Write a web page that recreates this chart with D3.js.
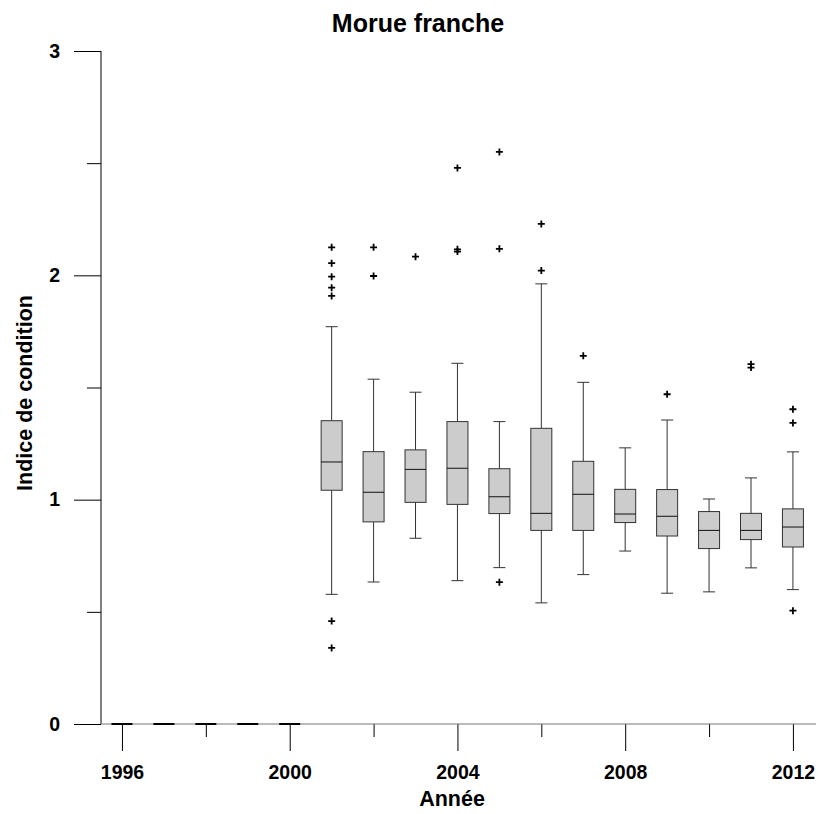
<!DOCTYPE html>
<html>
<head>
<meta charset="utf-8">
<script src="https://cdn.jsdelivr.net/npm/d3@7"></script>
<style>
  html, body { margin: 0; padding: 0; background: #fff; }
  svg { display: block; font-family: "Liberation Sans", Arial, sans-serif; }
</style>
</head>
<body>
<svg id="chart" width="820" height="814"></svg>
<script>
// Condition index of Atlantic cod by year (box-plot statistics)
const years       = [1996, 1997, 1998, 1999, 2000, 2001, 2002, 2003, 2004, 2005, 2006, 2007, 2008, 2009, 2010, 2011, 2012];
const whiskerLow  = [0, 0, 0, 0, 0, 0.578, 0.633, 0.828, 0.639, 0.697, 0.540, 0.666, 0.771, 0.583, 0.589, 0.696, 0.599];
const q1          = [0, 0, 0, 0, 0, 1.042, 0.901, 0.988, 0.979, 0.938, 0.863, 0.863, 0.898, 0.838, 0.782, 0.822, 0.789];
const medians     = [0, 0, 0, 0, 0, 1.168, 1.033, 1.135, 1.140, 1.013, 0.939, 1.024, 0.936, 0.926, 0.863, 0.863, 0.878];
const q3          = [0, 0, 0, 0, 0, 1.352, 1.214, 1.222, 1.348, 1.138, 1.318, 1.171, 1.046, 1.045, 0.947, 0.939, 0.959];
const whiskerHigh = [0, 0, 0, 0, 0, 1.771, 1.537, 1.479, 1.608, 1.348, 1.962, 1.523, 1.231, 1.355, 1.003, 1.097, 1.213];
const outliers    = [
  [], [], [], [], [],
  [2.125, 2.054, 1.994, 1.945, 1.908, 0.459, 0.339],
  [2.125, 1.997],
  [2.083],
  [2.479, 2.116, 2.106],
  [2.550, 2.118, 0.632],
  [2.229, 2.021],
  [1.641],
  [],
  [1.470],
  [],
  [1.604, 1.589],
  [1.403, 1.342, 0.505]
];
const yMajorTicks = [0, 1, 2, 3];
const yMinorTicks = [0.5, 1.5, 2.5];
const xMajorTicks = [1996, 2000, 2004, 2008, 2012];
const xMinorTicks = [1998, 2002, 2006, 2010];

const svg = d3.select("#chart");
const plotLeft = 101, plotRight = 816, plotTop = 51, plotBottom = 724;

const x = d3.scaleLinear().domain([1995.5, 2012.55]).range([plotLeft, plotRight]);
const y = d3.scaleLinear().domain([0, 3]).range([plotBottom, plotTop]);

const boxW = 21, capW = 12;

// Title
svg.append("text")
  .attr("x", 418).attr("y", 32)
  .attr("text-anchor", "middle")
  .attr("font-size", 25).attr("font-weight", "bold")
  .text("Morue franche");

function styleAxis(g) {
  g.select(".domain").remove();
  g.selectAll("text").attr("font-size", 19.5).attr("font-weight", "bold")
    .attr("font-family", "Liberation Sans, Arial, sans-serif").attr("fill", "#000");
  g.selectAll("line").attr("stroke", "#000");
}

// Y axis: long major ticks, shorter minor ticks
svg.append("g").attr("transform", `translate(${plotLeft},0)`)
  .call(d3.axisLeft(y).tickValues(yMajorTicks).tickSize(27).tickPadding(14).tickFormat(d3.format("d")))
  .call(styleAxis);
svg.append("g").attr("transform", `translate(${plotLeft},0)`)
  .call(d3.axisLeft(y).tickValues(yMinorTicks).tickSize(14).tickFormat(""))
  .call(styleAxis);

// X axis: long major ticks, shorter minor ticks
svg.append("g").attr("transform", `translate(0,${plotBottom})`)
  .call(d3.axisBottom(x).tickValues(xMajorTicks).tickSize(27).tickPadding(14).tickFormat(d3.format("d")))
  .call(styleAxis);
svg.append("g").attr("transform", `translate(0,${plotBottom})`)
  .call(d3.axisBottom(x).tickValues(xMinorTicks).tickSize(13).tickFormat(""))
  .call(styleAxis);

// Axis lines
svg.append("line").attr("x1", plotLeft).attr("x2", plotLeft).attr("y1", y(3)).attr("y2", plotBottom)
  .attr("stroke", "#000").attr("stroke-width", 1);
svg.append("line").attr("x1", plotLeft).attr("x2", plotRight).attr("y1", plotBottom).attr("y2", plotBottom)
  .attr("stroke", "#777").attr("stroke-width", 1);

// Axis titles
svg.append("text")
  .attr("x", 452).attr("y", 806)
  .attr("text-anchor", "middle")
  .attr("font-size", 21.5).attr("font-weight", "bold")
  .text("Année");
svg.append("text")
  .attr("transform", `translate(32,393) rotate(-90)`)
  .attr("text-anchor", "middle")
  .attr("font-size", 21.5).attr("font-weight", "bold")
  .text("Indice de condition");

// Box plots
const boxes = svg.append("g");
years.forEach((yr, i) => {
  const cx = x(yr);
  const g = boxes.append("g");
  if (whiskerHigh[i] === 0 && q3[i] === 0) {
    // year without samples: collapsed box on the baseline
    g.append("line").attr("x1", cx - boxW / 2).attr("x2", cx + boxW / 2)
      .attr("y1", y(0)).attr("y2", y(0)).attr("stroke", "#000").attr("stroke-width", 2);
    return;
  }
  // whiskers
  g.append("line").attr("x1", cx).attr("x2", cx).attr("y1", y(whiskerHigh[i])).attr("y2", y(q3[i]))
    .attr("stroke", "#333").attr("stroke-width", 1);
  g.append("line").attr("x1", cx).attr("x2", cx).attr("y1", y(q1[i])).attr("y2", y(whiskerLow[i]))
    .attr("stroke", "#333").attr("stroke-width", 1);
  g.append("line").attr("x1", cx - capW / 2).attr("x2", cx + capW / 2)
    .attr("y1", y(whiskerHigh[i])).attr("y2", y(whiskerHigh[i])).attr("stroke", "#333").attr("stroke-width", 1);
  g.append("line").attr("x1", cx - capW / 2).attr("x2", cx + capW / 2)
    .attr("y1", y(whiskerLow[i])).attr("y2", y(whiskerLow[i])).attr("stroke", "#333").attr("stroke-width", 1);
  // box
  g.append("rect").attr("x", cx - boxW / 2).attr("width", boxW)
    .attr("y", y(q3[i])).attr("height", y(q1[i]) - y(q3[i]))
    .attr("fill", "#cccccc").attr("stroke", "#333").attr("stroke-width", 1);
  // median
  g.append("line").attr("x1", cx - boxW / 2).attr("x2", cx + boxW / 2)
    .attr("y1", y(medians[i])).attr("y2", y(medians[i])).attr("stroke", "#111").attr("stroke-width", 1);
  // outliers as plus signs
  outliers[i].forEach(v => {
    const py = y(v), s = 3.5;
    g.append("path").attr("d", `M${cx - s},${py}H${cx + s}M${cx},${py - s}V${py + s}`)
      .attr("stroke", "#000").attr("stroke-width", 1.8).attr("fill", "none");
  });
});
</script>
</body>
</html>
